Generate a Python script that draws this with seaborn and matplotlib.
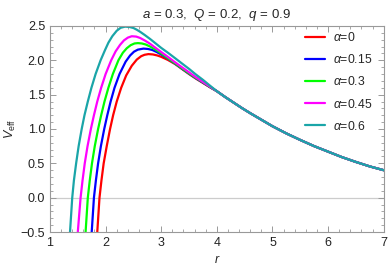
import numpy as np
import pandas as pd
import seaborn as sns
from matplotlib import pyplot as plt
from matplotlib.ticker import MultipleLocator

# values
alphas = ["0", "0.15", "0.3", "0.45", "0.6"]
colors = ["#ff0000", "#0000ff", "#00ff00", "#ff00ff", "#1aa5a8"]

# all curves run together beyond r = 4
r_tail = [4.0, 4.15, 4.3, 4.45, 4.6, 4.8, 5.0, 5.25, 5.5, 5.75, 6.0, 6.25, 6.5, 6.75, 7.0]
v_tail = [1.55, 1.465, 1.385, 1.305, 1.23, 1.135, 1.04, 0.935, 0.84, 0.75, 0.67,
          0.59, 0.52, 0.455, 0.40]

r_a0 = [1.838, 1.85, 1.87, 1.89, 1.925, 1.965, 2.02, 2.08, 2.135, 2.20, 2.28, 2.37,
        2.47, 2.56, 2.64, 2.70, 2.77, 2.85, 2.93, 3.0, 3.12, 3.25, 3.37, 3.5, 3.62,
        3.75, 3.87]
v_a0 = [-0.7, -0.5, -0.25, 0.0, 0.25, 0.5, 0.75, 1.0, 1.2, 1.4, 1.6, 1.78,
        1.92, 2.01, 2.06, 2.08, 2.09, 2.085, 2.07, 2.05, 2.005, 1.945, 1.875, 1.80, 1.735,
        1.67, 1.61]

r_a15 = [1.738, 1.75, 1.77, 1.79, 1.825, 1.865, 1.915, 1.975, 2.03, 2.09, 2.16, 2.25,
         2.36, 2.44, 2.51, 2.58, 2.68, 2.76, 2.84, 2.92, 3.0, 3.12, 3.25, 3.37, 3.5,
         3.62, 3.75, 3.87]
v_a15 = [-0.7, -0.5, -0.25, 0.0, 0.25, 0.5, 0.75, 1.0, 1.2, 1.4, 1.6, 1.8,
         1.98, 2.07, 2.125, 2.155, 2.17, 2.165, 2.15, 2.12, 2.085, 2.025, 1.95, 1.88, 1.805,
         1.74, 1.675, 1.613]

r_a30 = [1.628, 1.64, 1.66, 1.68, 1.715, 1.755, 1.805, 1.865, 1.92, 1.98, 2.05, 2.13,
         2.23, 2.31, 2.38, 2.45, 2.52, 2.58, 2.65, 2.72, 2.80, 2.90, 3.0, 3.12, 3.25,
         3.37, 3.5, 3.62, 3.75, 3.87]
v_a30 = [-0.7, -0.5, -0.25, 0.0, 0.25, 0.5, 0.75, 1.0, 1.2, 1.4, 1.6, 1.8,
         2.0, 2.11, 2.175, 2.22, 2.245, 2.25, 2.245, 2.23, 2.20, 2.155, 2.10, 2.03, 1.955,
         1.885, 1.81, 1.745, 1.68, 1.615]

r_a45 = [1.49, 1.50, 1.525, 1.55, 1.585, 1.625, 1.675, 1.735, 1.79, 1.85, 1.92, 2.0,
         2.1, 2.18, 2.26, 2.33, 2.40, 2.47, 2.55, 2.62, 2.70, 2.80, 2.90, 3.0, 3.12,
         3.25, 3.37, 3.5, 3.62, 3.75, 3.87]
v_a45 = [-0.7, -0.5, -0.25, 0.0, 0.25, 0.5, 0.75, 1.0, 1.2, 1.4, 1.6, 1.8,
         2.0, 2.13, 2.225, 2.29, 2.33, 2.35, 2.345, 2.325, 2.29, 2.24, 2.18, 2.12, 2.05,
         1.97, 1.90, 1.825, 1.755, 1.685, 1.62]

r_a60 = [1.35, 1.36, 1.38, 1.40, 1.43, 1.47, 1.515, 1.57, 1.62, 1.68, 1.745, 1.82,
         1.91, 1.99, 2.05, 2.12, 2.20, 2.27, 2.35, 2.43, 2.50, 2.56, 2.62, 2.70, 2.80,
         2.90, 3.0, 3.12, 3.25, 3.37, 3.5, 3.62, 3.75, 3.87]
v_a60 = [-0.7, -0.5, -0.25, 0.0, 0.25, 0.5, 0.75, 1.0, 1.2, 1.4, 1.6, 1.8,
         2.0, 2.15, 2.256, 2.35, 2.43, 2.473, 2.49, 2.485, 2.47, 2.445, 2.415, 2.37, 2.31,
         2.245, 2.18, 2.11, 2.03, 1.955, 1.875, 1.795, 1.715, 1.635]

curves = [(r_a0, v_a0), (r_a15, v_a15), (r_a30, v_a30), (r_a45, v_a45), (r_a60, v_a60)]

rows = []
for a, (rs, vs) in zip(alphas, curves):
    lab = r"$\alpha$=" + a
    for x, y in zip(rs + r_tail, vs + v_tail):
        rows.append((x, y, lab))
df = pd.DataFrame(rows, columns=["r", "V", "alpha"])
labels = [r"$\alpha$=" + a for a in alphas]

sns.set_style("ticks")
plt.rcParams["font.family"] = ["Liberation Sans", "DejaVu Sans"]
plt.rcParams["mathtext.fontset"] = "custom"
plt.rcParams["mathtext.rm"] = "Liberation Sans"
plt.rcParams["mathtext.it"] = "Liberation Sans:italic"

fig = plt.figure(figsize=(3.89, 2.73), dpi=100)
ax = fig.add_axes([0.1285, 0.150, 0.858, 0.755])

ax.axhline(0, color="#cccccc", lw=0.9, zorder=0)
sns.lineplot(data=df, x="r", y="V", hue="alpha", hue_order=labels,
             palette=colors, lw=1.6, estimator=None, sort=False, ax=ax)

ax.set_xlim(1, 7)
ax.set_ylim(-0.5, 2.5)
ax.xaxis.set_major_locator(MultipleLocator(1))
ax.xaxis.set_minor_locator(MultipleLocator(0.2))
ax.yaxis.set_major_locator(MultipleLocator(0.5))
ax.yaxis.set_minor_locator(MultipleLocator(0.1))
ax.tick_params(which="both", direction="in", top=True, right=True,
               color="#999999", labelsize=9, labelcolor="#222222")
ax.tick_params(which="major", length=4, width=0.7)
ax.tick_params(which="minor", length=2, width=0.6)
for s in ax.spines.values():
    s.set_color("#999999")
    s.set_linewidth(0.8)

ax.set_xlabel(r"$r$", fontsize=9, labelpad=4)
ax.set_ylabel(r"$V_{\mathrm{eff}}$", fontsize=9, labelpad=2)
ax.set_title(r"$a$ = 0.3,  $Q$ = 0.2,  $q$ = 0.9", fontsize=9.5, pad=6)

handles, _ = ax.get_legend_handles_labels()
ax.legend(handles, labels, loc="upper left", bbox_to_anchor=(0.763, 0.975),
          frameon=False, fontsize=8.8, handlelength=1.7, handletextpad=0.6,
          labelspacing=0.75, borderpad=0, borderaxespad=0)

fig.savefig("out.png", dpi=100)
